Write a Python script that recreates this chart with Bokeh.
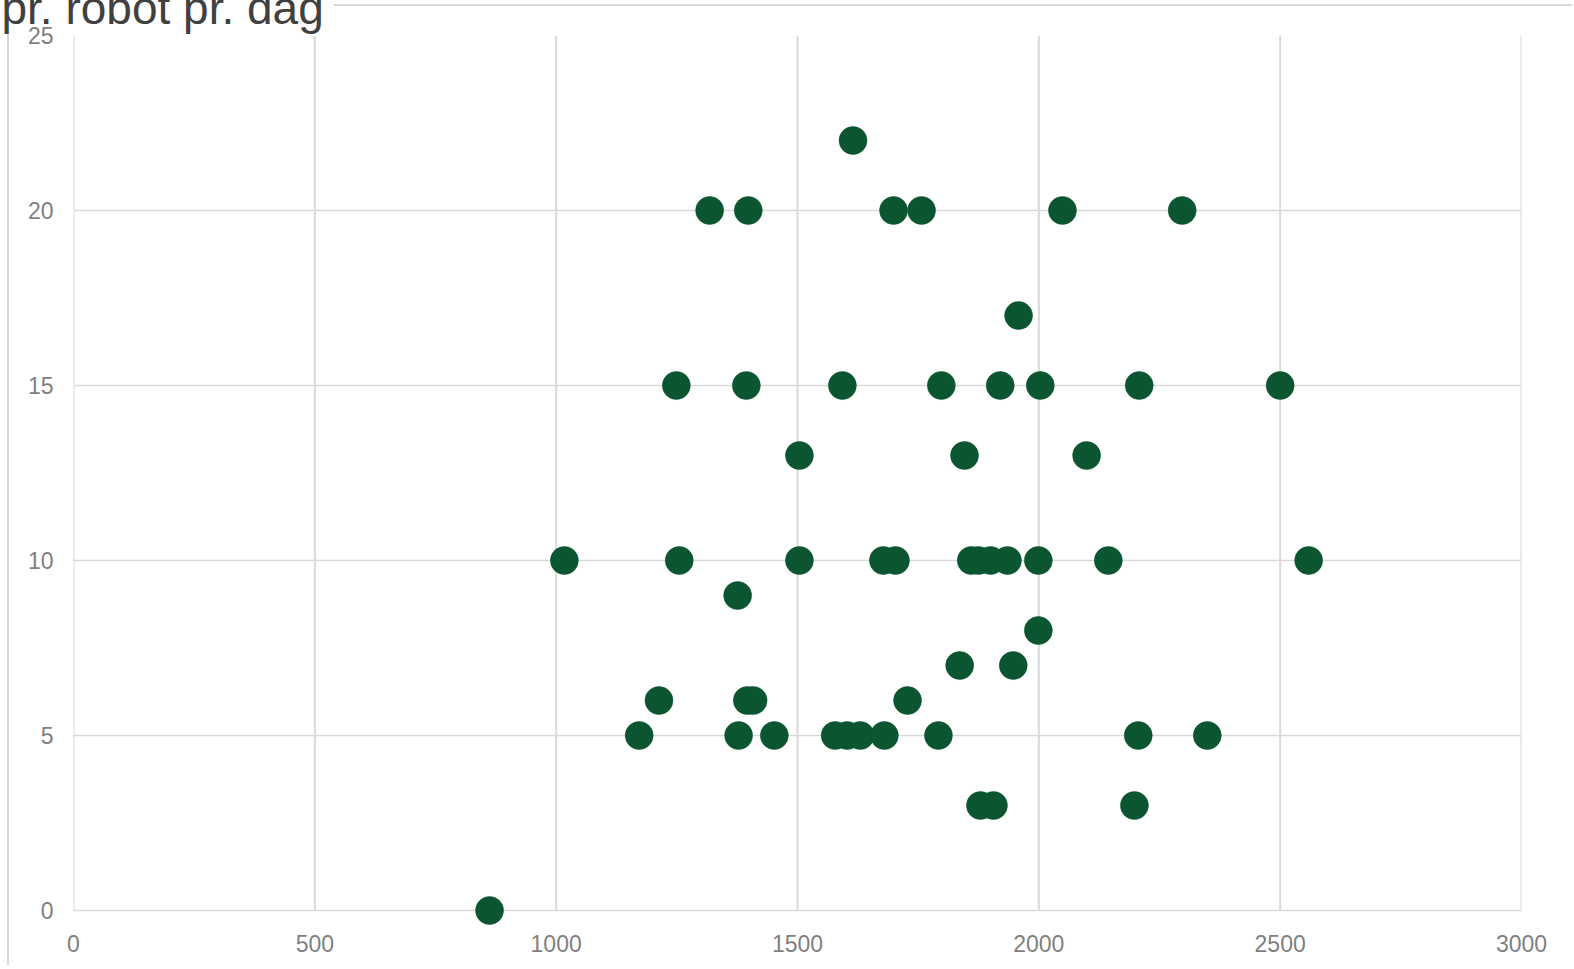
from bokeh.plotting import figure
from bokeh.layouts import column
from bokeh.models import Range1d, FixedTicker, ColumnDataSource
from bokeh.embed import file_html
from bokeh.resources import INLINE

# data
x_vals = [1615,
          1318, 1398, 1699, 1757, 2049, 2297,
          1958,
          1249, 1394, 1593, 1798, 1920, 2003, 2208, 2500,
          1504, 1846, 2099,
          1017, 1255, 1504, 1678, 1703, 1860, 1875, 1900, 1935, 1999, 2144, 2559,
          1376,
          1999,
          1836, 1947,
          1213, 1396, 1408, 1728,
          1172, 1378, 1452, 1578, 1603, 1630, 1680, 1792, 2206, 2349,
          1879, 1906, 2198,
          862]
y_vals = [22,
          20, 20, 20, 20, 20, 20,
          17,
          15, 15, 15, 15, 15, 15, 15, 15,
          13, 13, 13,
          10, 10, 10, 10, 10, 10, 10, 10, 10, 10, 10, 10,
          9,
          8,
          7, 7,
          6, 6, 6, 6,
          5, 5, 5, 5, 5, 5, 5, 5, 5, 5,
          3, 3, 3,
          0]
x_ticks = [0, 500, 1000, 1500, 2000, 2500, 3000]
y_ticks = [0, 5, 10, 15, 20, 25]
title_text = "pr. robot pr. dag"

FONT = "Liberation Sans"
GRID = "#d9d9d9"

p = figure(width=1572, height=989, output_backend="svg", toolbar_location=None,
           x_range=Range1d(x_ticks[0], x_ticks[-1]), y_range=Range1d(-0.457, y_ticks[-1]),
           min_border_left=73, min_border_right=51, min_border_top=59, min_border_bottom=39)

p.outline_line_color = None
p.background_fill_color = "white"
p.border_fill_alpha = 0.0

p.title.text = title_text
p.title.text_font = FONT
p.title.text_font_size = "46px"
p.title.text_font_style = "normal"
p.title.text_color = "#404040"
p.title.align = "left"
p.title.offset = -72
p.title.standoff = 3

for ax in (p.xaxis[0], p.yaxis[0]):
    ax.axis_line_color = None
    ax.major_tick_line_color = None
    ax.minor_tick_line_color = None
    ax.major_tick_out = 0
    ax.major_tick_in = 0
    ax.major_label_text_font = FONT
    ax.major_label_text_font_size = "23px"
    ax.major_label_text_color = "#7f7f7f"

p.xaxis[0].ticker = FixedTicker(ticks=x_ticks)
p.yaxis[0].ticker = FixedTicker(ticks=y_ticks)
p.xaxis[0].major_label_standoff = 8
p.yaxis[0].major_label_standoff = 20

p.xgrid.grid_line_color = None
p.ygrid.grid_line_color = GRID
p.ygrid.grid_line_width = 1.5
p.ygrid.ticker = FixedTicker(ticks=y_ticks)

# vertical grid lines (from the x ticks), spanning the value range only
grid_src = ColumnDataSource(dict(x=x_ticks,
                                 y0=[y_ticks[0]] * len(x_ticks),
                                 y1=[y_ticks[-1]] * len(x_ticks)))
p.segment(x0="x", y0="y0", x1="x", y1="y1", source=grid_src,
          line_color=GRID, line_width=2, level="underlay")

src = ColumnDataSource(dict(x=x_vals, y=y_vals))
p.scatter("x", "y", source=src, size=28, fill_color="#0b5530", line_color="#0b5530",
          line_width=0.5)

# chart-area border (top and left edges) drawn behind the transparent canvas
layout = column(p, styles={
    "margin-top": "-24px",
    "background-image": "linear-gradient(#d9d9d9, #d9d9d9), linear-gradient(#d9d9d9, #d9d9d9)",
    "background-repeat": "no-repeat, no-repeat",
    "background-position": "334px 28px, 7px 54px",
    "background-size": "100% 2px, 2px 100%",
})

open("out.html", "w").write(file_html(layout, INLINE))
